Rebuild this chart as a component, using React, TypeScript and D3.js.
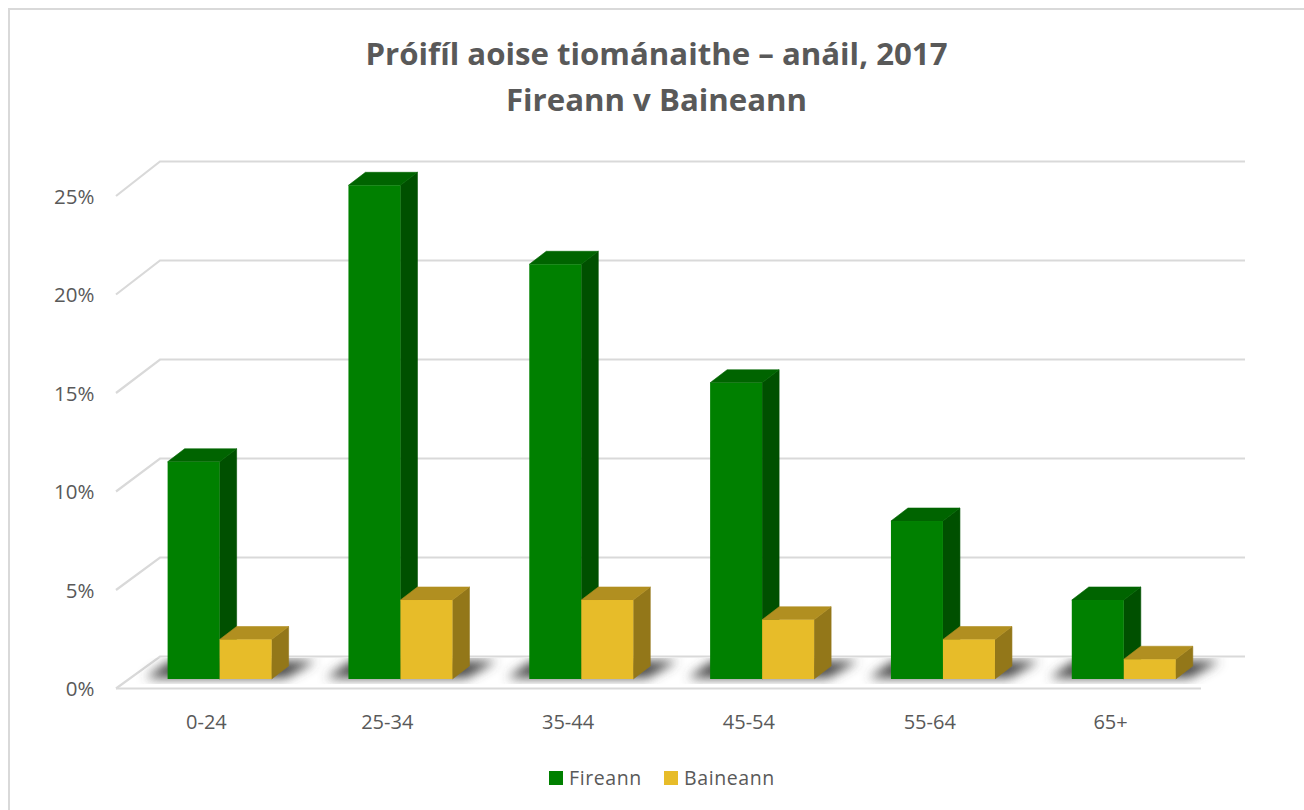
import React from "react";
import * as d3 from "d3";

const categories = ["0-24", "25-34", "35-44", "45-54", "55-64", "65+"];
const seriesNames = ["Fireann", "Baineann"];
const fireann = [11, 25, 21, 15, 8, 4];
const baineann = [2, 4, 4, 3, 2, 1];
const yTicks = [0, 5, 10, 15, 20, 25];
const titleLines = ["Próifíl aoise tiománaithe – anáil, 2017", "Fireann v Baineann"];

const FONT = "'Open Sans', 'Noto Sans', sans-serif";
const W = 1304, H = 810;
const plotL = 116, plotR = 1201;
const floorY = 688;
const wallDX = 44, wallDY = 32;
const barDX = 13.2, barDY = 9;
const depthX = 17, depthY = 13;

const palette = [
  { front: "#008000", top: "#006400", side: "#005000" },
  { front: "#E7BC29", top: "#B18F20", side: "#937719" },
];

export default function App() {
  const x = d3.scaleBand<string>().domain(categories).range([plotL, plotR]);
  const inner = d3.scaleBand<string>().domain(seriesNames).range([x.bandwidth() / 2 - 52, x.bandwidth() / 2 + 52]);
  const yBar = d3.scaleLinear().domain([0, 25]).range([floorY - barDY, floorY - barDY - 493.7]);
  const yFront = d3.scaleLinear().domain([0, 25]).range([floorY, floorY - 492.5]);
  const yBack = d3.scaleLinear().domain([0, 25]).range([floorY - wallDY, floorY - wallDY - 495]);
  const line = d3.line();
  const poly = (pts: [number, number][]) => line(pts) + "Z";
  const series = [fireann, baineann];

  return (
    <svg width={W} height={H} style={{ position: "absolute", left: 0, top: 0, background: "#fff" }}>
      <defs>
        <filter id="blur" x="-30%" y="-150%" width="160%" height="400%">
          <feGaussianBlur stdDeviation="5.5" />
        </filter>
        <clipPath id="floorClip">
          <rect x={plotL} y={floorY - wallDY + 2} width={plotR - plotL + wallDX} height={wallDY - 6} />
        </clipPath>
      </defs>

      <path d={`M${W},9H9V${H}`} fill="none" stroke="#d9d9d9" strokeWidth={2} />

      {titleLines.map((t, i) => (
        <text key={t} x={656.5} y={65 + i * 46} textAnchor="middle" fontFamily={FONT} fontWeight={700} fontSize={31.2} fill="#595959">{t}</text>
      ))}

      {yTicks.map((v) => (
        <g key={v}>
          <path d={line([[plotL, yFront(v) + 0.5], [plotL + wallDX, yBack(v) + 0.5], [plotR + wallDX, yBack(v) + 0.5]])!} fill="none" stroke="#d9d9d9" strokeWidth={2.2} />
          <text x={94.5} y={yFront(v) + 8} textAnchor="end" fontFamily={FONT} fontSize={20.5} fill="#595959">{`${v}%`}</text>
        </g>
      ))}
      <path d={line([[plotL, floorY + 0.5], [plotR, floorY + 0.5]])!} fill="none" stroke="#d9d9d9" strokeWidth={2.2} />

      <g clipPath="url(#floorClip)">
        {categories.map((c) => {
          const x0 = x(c)! + inner(seriesNames[0])! + barDX;
          const x1 = x(c)! + inner(seriesNames[1])! + inner.bandwidth() + barDX;
          const yb = yBar(0);
          return (
            <path key={c} filter="url(#blur)" fill="#4a4a4a"
              d={poly([[x0 - 22, yb - 1], [x1 + 14, yb - 1], [x1 + 44, yb - 18], [x0 + 2, yb - 18]])} />
          );
        })}
      </g>

      {categories.map((c, ci) => (
        <g key={c}>
          {seriesNames.map((s, si) => {
            const v = series[si][ci];
            const xa = x(c)! + inner(s)! + barDX;
            const xb = xa + inner.bandwidth();
            const yt = yBar(v), yb = yBar(0);
            const col = palette[si];
            return (
              <g key={s}>
                <path d={poly([[xb, yt], [xb + depthX, yt - depthY], [xb + depthX, yb - depthY], [xb, yb]])} fill={col.side} stroke={col.side} strokeWidth={0.6} />
                <path d={poly([[xa, yt], [xa + depthX, yt - depthY], [xb + depthX, yt - depthY], [xb, yt]])} fill={col.top} stroke={col.top} strokeWidth={0.6} />
                <rect x={xa} y={yt} width={xb - xa} height={yb - yt} fill={col.front} />
              </g>
            );
          })}
          <text x={x(c)! + x.bandwidth() / 2} y={729} textAnchor="middle" fontFamily={FONT} fontSize={20} fill="#595959">{c}</text>
        </g>
      ))}

      {seriesNames.map((s, i) => {
        const lx = [549, 664][i];
        return (
          <g key={s}>
            <rect x={lx} y={771} width={14} height={14} fill={palette[i].front} />
            <text x={lx + 20} y={785} fontFamily={FONT} fontSize={19.5} letterSpacing={0.6} fill="#595959">{s}</text>
          </g>
        );
      })}
    </svg>
  );
}
